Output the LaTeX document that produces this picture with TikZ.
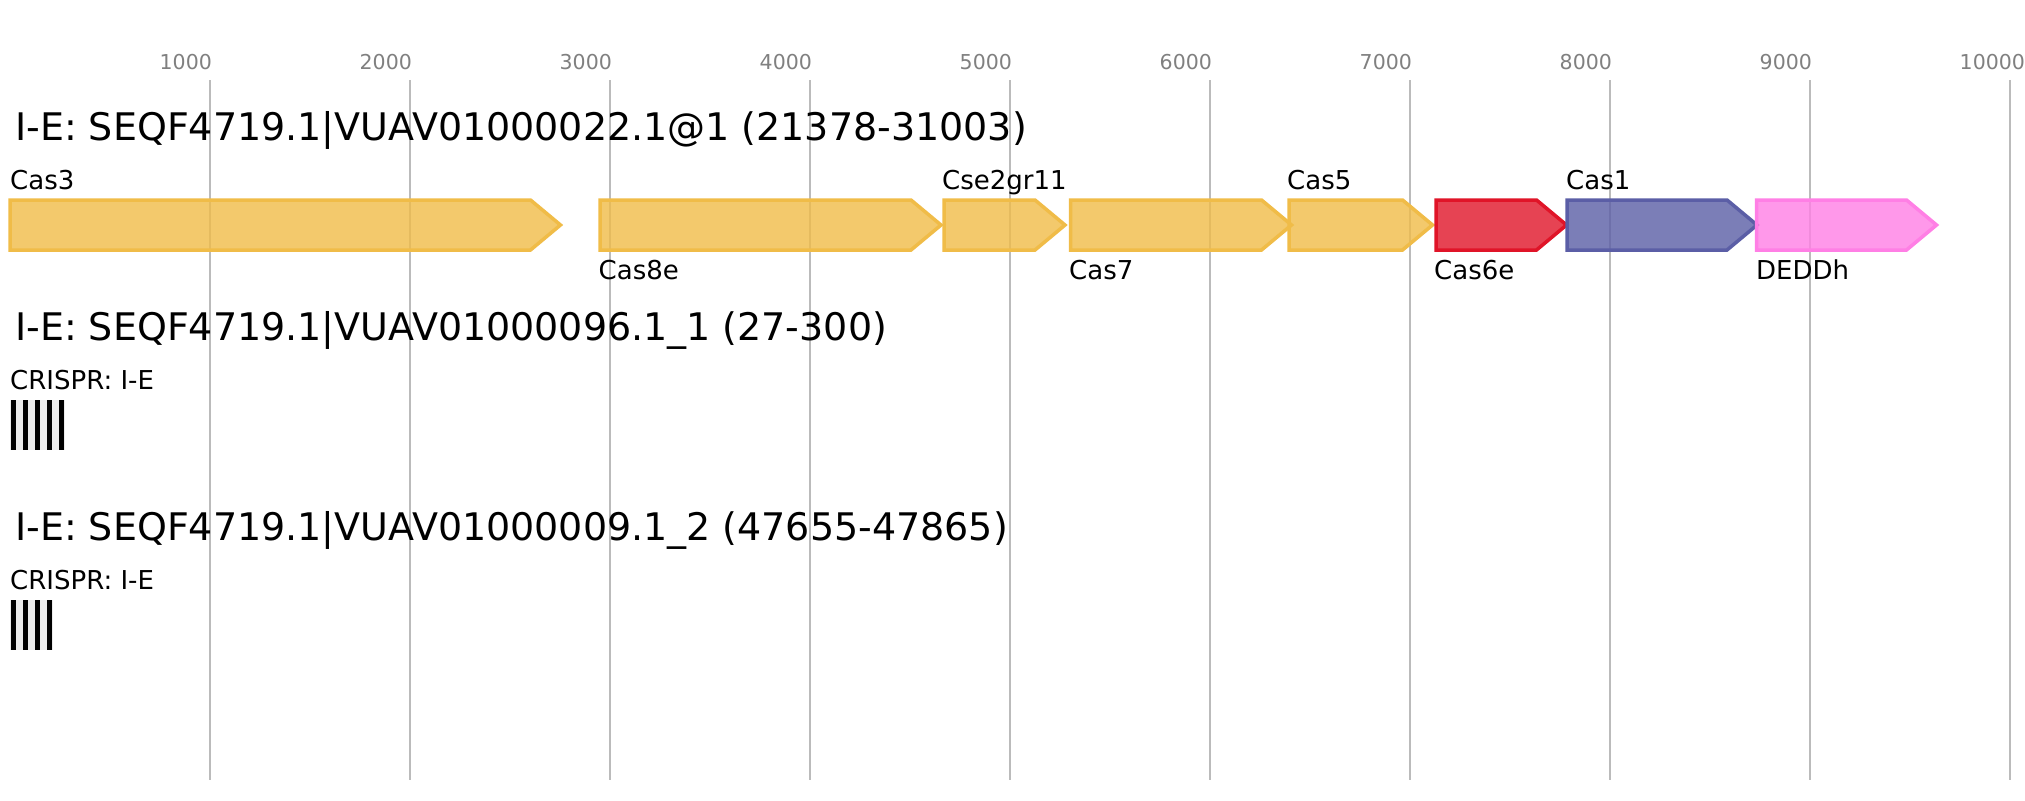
\documentclass[tikz,border=0pt]{standalone}
\usepackage{fontspec}
\setmainfont{DejaVu Sans}
\definecolor{yel}{HTML}{F0BC48}
\definecolor{redc}{HTML}{E01428}
\definecolor{blu}{HTML}{5B5EA6}
\definecolor{pnk}{HTML}{FF7FE5}
\definecolor{gridc}{HTML}{BBBBBB}
\definecolor{tickc}{HTML}{808080}
\definecolor{spacerc}{HTML}{EBEBEB}
\newcommand\genearrow[4]{%
  \filldraw[genebox, draw=#4, fill=#4] (#1,200) -- (#2,200) -- (#2+30,225) -- (#2,250) -- (#1,250) -- cycle;}
\begin{document}
\begin{tikzpicture}[x=1pt,y=-1pt,
  gridline/.style={draw=gridc, line width=2pt},
  ticklbl/.style={anchor=base west, inner sep=0pt, text=tickc, font=\fontsize{20.5}{24}\selectfont},
  titlelbl/.style={anchor=base west, inner sep=0pt, font=\fontsize{38}{44}\selectfont},
  glabel/.style={anchor=base west, inner sep=0pt, font=\fontsize{26}{30}\selectfont},
  genebox/.style={line width=3.5pt, line join=miter, fill opacity=0.8},
  repeatbar/.style={fill=black},
  spacerbar/.style={fill=spacerc}]
\useasboundingbox (0,0) rectangle (2025,800);
\fill[white] (0,0) rectangle (2025,800);
% grid and ticks
\foreach \k in {1,...,10} {
  \pgfmathsetmacro\gx{10+200*\k}
  \draw[gridline] (\gx,80) -- (\gx,780);
  \node[ticklbl] (tick\k) at (\gx-50.5,70) {\k000};
}
% cluster 1
\node[titlelbl] (title1) at (15,140.7) {I-E: SEQF4719.1|VUAV01000022.1@1 (21378-31003)};
\genearrow{10}{530.5}{Cas3}{yel}
\genearrow{600}{911}{Cas8e}{yel}
\genearrow{944}{1035}{Cse2gr11}{yel}
\genearrow{1070.5}{1261.5}{Cas7}{yel}
\genearrow{1289}{1402.5}{Cas5}{yel}
\genearrow{1436}{1536.5}{Cas6e}{redc}
\genearrow{1567}{1727}{Cas1}{blu}
\genearrow{1756.5}{1906.5}{DEDDh}{pnk}
\node[glabel] (lcas3) at (10,189.3) {Cas3};
\node[glabel] (lcas8e) at (598.5,279.5) {Cas8e};
\node[glabel] (lcse2) at (942,189.3) {Cse2gr11};
\node[glabel] (lcas7) at (1069,279.5) {Cas7};
\node[glabel] (lcas5) at (1287,189.3) {Cas5};
\node[glabel] (lcas6e) at (1434,279.5) {Cas6e};
\node[glabel] (lcas1) at (1566,189.3) {Cas1};
\node[glabel] (ldeddh) at (1756,279.5) {DEDDh};
% cluster 2
\node[titlelbl] (title2) at (15,340.7) {I-E: SEQF4719.1|VUAV01000096.1\_1 (27-300)};
\node[glabel] (crispr1) at (10,389.3) {CRISPR: I-E};
\fill[spacerbar] (10,400) rectangle (64.6,450);
\foreach \i in {0,...,4} {\fill[repeatbar] (10.7+12*\i,400) rectangle (16.2+12*\i,450);}
% cluster 3
\node[titlelbl] (title3) at (15,540.7) {I-E: SEQF4719.1|VUAV01000009.1\_2 (47655-47865)};
\node[glabel] (crispr2) at (10,589.3) {CRISPR: I-E};
\fill[spacerbar] (10,600) rectangle (52.5,650);
\foreach \i in {0,...,3} {\fill[repeatbar] (10.7+12*\i,600) rectangle (16.2+12*\i,650);}
\end{tikzpicture}
\end{document}
